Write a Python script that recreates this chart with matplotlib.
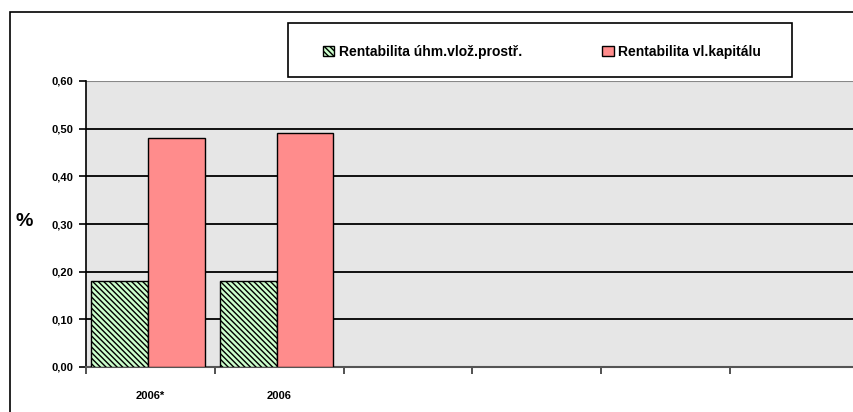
import numpy as np
import matplotlib
matplotlib.use("Agg")
import matplotlib.pyplot as plt
from matplotlib.patches import Rectangle
from matplotlib.ticker import FuncFormatter

plt.rcParams['font.family'] = ['Liberation Sans Narrow', 'Liberation Sans', 'DejaVu Sans']
plt.rcParams['font.weight'] = 'bold'
plt.rcParams['hatch.linewidth'] = 1.0

categories = ['2006*', '2006', '', '', '', '']
rent_aktiv = [0.18, 0.18]      # Rentabilita úhrn. vlož. prostř.
rent_kapital = [0.48, 0.49]    # Rentabilita vl. kapitálu

W, H = 854, 412
fig = plt.figure(figsize=(W / 100, H / 100), dpi=100)

# outer chart frame
fig.patches.append(Rectangle((10 / W, -0.05), 1.1, 1.05 - 12 / H, transform=fig.transFigure,
                             fill=False, edgecolor='black', linewidth=1.2))

left, right, top, bottom = 86, 859, 81, 367
ax = fig.add_axes([left / W, 1 - bottom / H, (right - left) / W, (bottom - top) / H])
ax.set_facecolor('#e6e6e6')

x = np.arange(len(categories))
bw = 0.44
xa = np.arange(len(rent_aktiv))
ax.bar(xa + 0.5 - 0.02 - bw / 2, rent_aktiv, bw, facecolor='#ccffcc', edgecolor='black',
       hatch='\\\\\\\\\\\\', linewidth=1.0, label='Rentabilita úhm.vlož.prostř.', zorder=3)
ax.bar(xa + 0.5 - 0.02 + bw / 2, rent_kapital, bw, facecolor='#ff8c8c', edgecolor='black',
       linewidth=1.0, label='Rentabilita vl.kapitálu', zorder=3)

ax.set_xlim(0, len(categories))
ax.set_ylim(0, 0.6)
ax.set_yticks(np.arange(0, 0.61, 0.1))
ax.yaxis.set_major_formatter(FuncFormatter(lambda v, p: f'{v:.2f}'.replace('.', ',')))
ax.set_xticks(x, minor=False)
ax.set_xticklabels([''] * len(categories))
ax.set_xticks(x + 0.5, minor=True)
ax.set_xticklabels(categories, minor=True)
ax.tick_params(axis='x', which='minor', length=0, pad=17, labelsize=8)
ax.tick_params(axis='x', which='major', length=5, width=1.2, color='#333333', direction='out')
ax.tick_params(axis='y', length=5, width=1.2, labelsize=8, pad=4, direction='out')

ax.grid(axis='y', color='black', linewidth=1.3, zorder=1)
ax.set_axisbelow(True)
for s in ['top', 'right']:
    ax.spines[s].set_visible(False)
ax.axhline(0.6, color='#888888', linewidth=1.5, zorder=2)
ax.spines['left'].set_linewidth(1.2)
ax.spines['bottom'].set_color('#555555')
ax.spines['bottom'].set_linewidth(1.5)

fig.text(24 / W, 1 - 222 / H, '%', fontsize=14, fontweight='bold', ha='center', va='center')

# legend box
fig.patches.append(Rectangle((288 / W, 1 - 77 / H), (792 - 288) / W, (77 - 23) / H,
                             transform=fig.transFigure, fill=True, facecolor='white',
                             edgecolor='black', linewidth=1.2, zorder=5))
leg = fig.legend(loc='center', bbox_to_anchor=(542 / W, 1 - 52 / H),
                 ncol=2, fontsize=10, frameon=False,
                 handlelength=0.8, handleheight=0.8, handletextpad=0.3, columnspacing=5.8)
leg.set_zorder(6)

fig.savefig('out.png', dpi=100)
